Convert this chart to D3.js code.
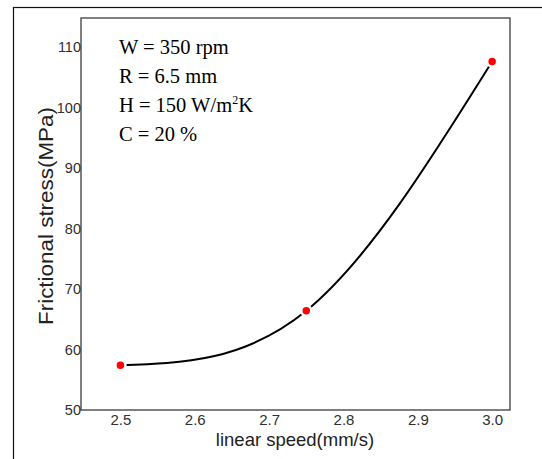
<!DOCTYPE html>
<html>
<head>
<meta charset="utf-8">
<script src="https://cdn.jsdelivr.net/npm/d3@7"></script>
<style>
  html, body { margin: 0; padding: 0; background: #fff; }
  svg { display: block; }
</style>
</head>
<body>
<svg id="chart" width="542" height="459"></svg>
<script>
// ---- data ----
const speeds = [2.5, 2.75, 3.0];
const stress = [57.4, 66.4, 107.6];
const xTicks = [2.5, 2.6, 2.7, 2.8, 2.9, 3.0];
const yTicks = [50, 60, 70, 80, 90, 100, 110];
const notes = ["W = 350 rpm", "R = 6.5 mm", "H = 150 W/m2K", "C = 20 %"];
const xTitle = "linear speed(mm/s)";
const yTitle = "Frictional stress(MPa)";

const svg = d3.select("#chart");
const L = 81, R = 510, T = 18, B = 410;

const x = d3.scaleLinear().domain([2.447, 3.024]).range([L, R]);
const y = d3.scaleLinear().domain([50, 114.8]).range([B, T]);

// outer frame
svg.append("rect").attr("x", 13.5).attr("y", 7.5).attr("width", 560).attr("height", 470)
  .attr("fill", "none").attr("stroke", "#111").attr("stroke-width", 1.2);

// plot frame
svg.append("rect").attr("x", L).attr("y", T).attr("width", R - L).attr("height", B - T)
  .attr("fill", "none").attr("stroke", "#555").attr("stroke-width", 1.5);

const sans = "'Liberation Sans', Arial, sans-serif";

// axes (labels only, no tick marks)
const xAxis = d3.axisBottom(x).tickValues(xTicks).tickFormat(d3.format(".1f")).tickSize(0).tickPadding(4);
const gx = svg.append("g").attr("transform", `translate(0,${B})`).call(xAxis);
gx.select(".domain").remove();
gx.style("font-family", sans).style("font-size", "15px");
gx.selectAll("text").style("fill", "#303030").attr("dy", "0.75em");

const yAxis = d3.axisLeft(y).tickValues(yTicks).tickFormat(d3.format("d")).tickSize(0).tickPadding(0);
const gy = svg.append("g").attr("transform", `translate(${L},0)`).call(yAxis);
gy.select(".domain").remove();
gy.style("font-family", sans).style("font-size", "14.5px");
gy.selectAll("text").style("fill", "#303030");

// axis titles
svg.append("text").attr("x", 295).attr("y", 446).attr("text-anchor", "middle")
  .style("font-family", sans).style("font-size", "18.5px")
  .style("fill", "#222").text(xTitle);

svg.append("text").attr("transform", "translate(53,216) rotate(-90)").attr("text-anchor", "middle")
  .style("font-family", sans).style("font-size", "20px")
  .attr("textLength", 218).attr("lengthAdjust", "spacingAndGlyphs")
  .style("fill", "#222").text(yTitle);

// curve
const data = speeds.map((s, i) => ({ s, v: stress[i] }));
const line = d3.line().x(d => x(d.s)).y(d => y(d.v)).curve(d3.curveNatural);
svg.append("path").datum(data).attr("d", line)
  .attr("fill", "none").attr("stroke", "#000").attr("stroke-width", 2);

// markers
svg.selectAll("circle.pt").data(data).join("circle").attr("class", "pt")
  .attr("cx", d => x(d.s)).attr("cy", d => y(d.v)).attr("r", 5)
  .attr("fill", "#ff0000").attr("stroke", "#fff").attr("stroke-width", 2.5);

// annotation
const ann = svg.append("g").style("font-family", "'Liberation Serif', 'Times New Roman', serif")
  .style("font-size", "20.5px").style("fill", "#000");
notes.forEach((n, i) => {
  const t = ann.append("text").attr("x", 119).attr("y", 54 + i * 29);
  if (n.includes("m2K")) {
    const parts = n.split("m2K");
    t.append("tspan").text(parts[0] + "m");
    t.append("tspan").style("font-size", "12px").attr("dy", -8).text("2");
    t.append("tspan").attr("dy", 8).text("K");
  } else {
    t.text(n);
  }
});
</script>
</body>
</html>
